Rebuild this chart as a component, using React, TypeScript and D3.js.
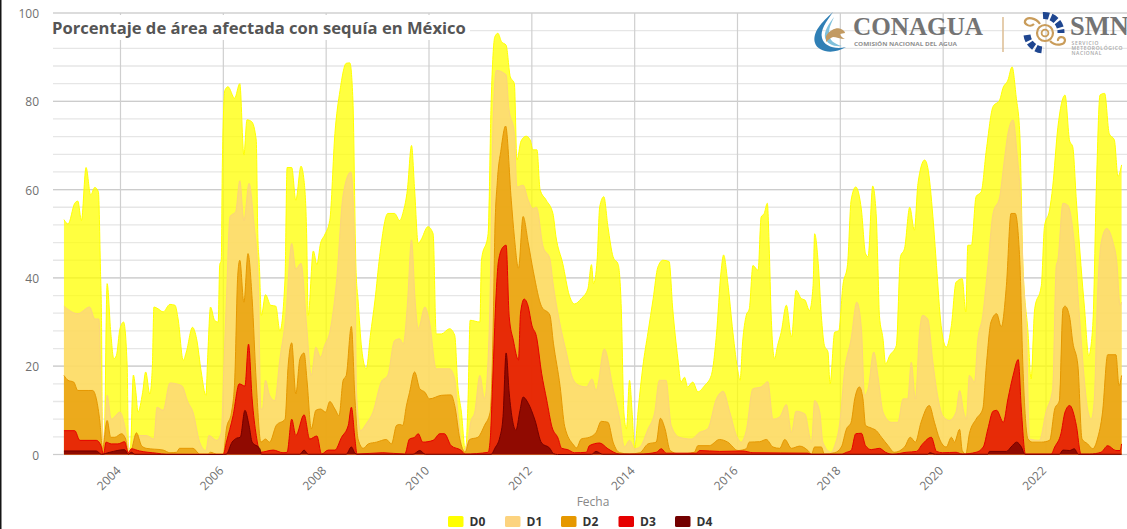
import React from "react";
import * as d3 from "d3";

type P = [number, number];

const d0Points: P[] = [[2002.9,53.2],[2002.98,52.2],[2003.11,56.9],[2003.17,57.4],[2003.24,53],[2003.33,65],[2003.42,58.8],[2003.5,60.5],[2003.57,59.5],[2003.61,42],[2003.63,31],[2003.65,2],[2003.68,0.5],[2003.74,38.7],[2003.81,27.7],[2003.87,21.7],[2003.92,22.4],[2003.99,28.5],[2004.06,30],[2004.13,20],[2004.155,1.3],[2004.19,0.5],[2004.25,18],[2004.3,14],[2004.34,9.6],[2004.43,14],[2004.49,18.7],[2004.57,13.7],[2004.62,20],[2004.65,33.4],[2004.73,33],[2004.83,32.3],[2004.96,34],[2005.06,33.8],[2005.12,30.7],[2005.22,21.3],[2005.28,23.2],[2005.4,28.8],[2005.48,26.2],[2005.57,18.7],[2005.66,13.4],[2005.7,23.2],[2005.75,33.4],[2005.83,30.4],[2005.9,30],[2005.93,43],[2005.96,44],[2005.98,65],[2006.03,82.5],[2006.09,83.3],[2006.22,80.7],[2006.32,84],[2006.4,67.8],[2006.46,75.8],[2006.55,75.4],[2006.64,71.2],[2006.67,50],[2006.7,43],[2006.74,31.5],[2006.82,36.2],[2006.92,33.8],[2007.02,33.6],[2007.1,28],[2007.2,39.8],[2007.24,65],[2007.33,65],[2007.41,57.6],[2007.51,65.3],[2007.57,62],[2007.62,50],[2007.65,31.5],[2007.75,46.1],[2007.82,43],[2007.89,47.8],[2007.97,49.7],[2008.07,53],[2008.17,72.7],[2008.27,82.5],[2008.39,88.6],[2008.46,88.7],[2008.52,80.3],[2008.58,42],[2008.62,35],[2008.69,24],[2008.78,19.4],[2008.86,27],[2008.95,35],[2009.04,44.8],[2009.2,54.6],[2009.33,54.6],[2009.43,53],[2009.5,55],[2009.58,60],[2009.66,70],[2009.72,60],[2009.79,47.8],[2009.84,48.5],[2009.98,51.6],[2010.08,50],[2010.14,27.3],[2010.24,27.3],[2010.4,28.5],[2010.5,27],[2010.56,15.6],[2010.63,9.6],[2010.71,0.5],[2010.76,12.6],[2010.8,30.4],[2010.99,30],[2011.02,44],[2011.15,50],[2011.21,80.3],[2011.28,94.6],[2011.34,95.4],[2011.41,93.5],[2011.5,92.7],[2011.58,85.6],[2011.66,84],[2011.71,66.7],[2011.79,71],[2011.89,72.1],[2011.97,71.2],[2012.02,69],[2012.1,69],[2012.16,60],[2012.28,57.6],[2012.41,54.6],[2012.47,49.3],[2012.6,43.3],[2012.73,36],[2012.83,34.1],[2012.96,35.3],[2013.09,37.5],[2013.16,43],[2013.2,38.7],[2013.27,44],[2013.32,56.1],[2013.4,58.4],[2013.48,51.6],[2013.58,44.8],[2013.68,43],[2013.74,33],[2013.79,9.6],[2013.84,5.8],[2013.9,16.8],[2013.95,9.6],[2014,1.3],[2014.07,10.3],[2014.16,20],[2014.26,27.7],[2014.36,35.3],[2014.45,42.4],[2014.55,44],[2014.67,43.7],[2014.74,33],[2014.84,21.7],[2014.9,16.4],[2014.97,17.5],[2015.03,15.3],[2015.13,16.4],[2015.23,14.2],[2015.36,15.6],[2015.49,17.9],[2015.59,27],[2015.68,41.4],[2015.73,45.2],[2015.81,39],[2015.91,27.7],[2016.01,18.7],[2016.05,16.8],[2016.1,25.5],[2016.17,31.5],[2016.23,33],[2016.3,42.8],[2016.4,41.7],[2016.46,53.8],[2016.52,54.6],[2016.58,56.9],[2016.62,45.6],[2016.65,33],[2016.72,21.7],[2016.78,24.7],[2016.85,27.7],[2016.95,33.8],[2017.05,26.6],[2017.14,37.2],[2017.24,35.3],[2017.31,35],[2017.4,32.6],[2017.47,38.3],[2017.5,50],[2017.57,43.3],[2017.63,31.5],[2017.69,24.7],[2017.76,23.2],[2017.8,16],[2017.89,27.7],[2017.97,28],[2018.05,38.3],[2018.14,43],[2018.21,57.6],[2018.3,60.6],[2018.41,55.4],[2018.49,45.5],[2018.54,44.8],[2018.63,60.8],[2018.7,53.8],[2018.73,42.8],[2018.76,31.5],[2018.83,26.2],[2018.88,20.5],[2018.96,22.4],[2019.09,24.7],[2019.17,44.8],[2019.25,46.7],[2019.35,56],[2019.44,50.8],[2019.51,61.4],[2019.64,66.7],[2019.7,65],[2019.8,53.9],[2019.87,42.8],[2019.96,29.2],[2020.06,24.3],[2020.16,29.2],[2020.25,39],[2020.37,39.8],[2020.44,32.3],[2020.48,47.4],[2020.55,47.4],[2020.64,58.4],[2020.74,59.5],[2020.84,69],[2020.97,78.8],[2021.1,80.3],[2021.16,82.9],[2021.26,84.8],[2021.34,87.8],[2021.42,81],[2021.49,72.7],[2021.55,43.3],[2021.65,27.7],[2021.71,17.1],[2021.78,33],[2021.91,38.3],[2021.97,51.6],[2022.07,55.4],[2022.13,60.6],[2022.23,74],[2022.37,81.4],[2022.46,71],[2022.52,69.7],[2022.59,57.6],[2022.68,42.8],[2022.75,33],[2022.83,22.4],[2022.91,29.2],[2022.98,60.6],[2023.05,81.4],[2023.14,81.8],[2023.23,72.7],[2023.33,71.2],[2023.4,63],[2023.47,65.6]];

const d1Points: P[] = [[2002.9,33.6],[2003.17,31.9],[2003.4,33.4],[2003.5,30.7],[2003.58,30.7],[2003.63,11],[2003.68,2.8],[2003.74,13.4],[2003.82,8],[2003.99,9.6],[2004.08,6.6],[2004.15,2],[2004.21,1],[2004.28,4.3],[2004.37,4.3],[2004.5,4.3],[2004.65,3.5],[2004.71,10.7],[2004.83,10],[2004.96,16.2],[2005.19,15.6],[2005.31,11.9],[2005.41,9.6],[2005.54,2.8],[2005.66,0.9],[2005.72,4.3],[2005.87,3.2],[2005.96,5],[2006.01,20],[2006.06,35],[2006.13,53.9],[2006.24,55],[2006.32,62],[2006.4,53],[2006.5,61.4],[2006.59,53],[2006.68,39],[2006.73,10.3],[2006.76,10.3],[2006.82,16.8],[2006.9,13.4],[2007,12.2],[2007.1,21.7],[2007.21,30.7],[2007.33,47.8],[2007.41,42],[2007.51,43.3],[2007.62,29.2],[2007.71,17.9],[2007.8,24.3],[2007.89,22],[2007.97,24.7],[2008.07,27.7],[2008.2,39],[2008.33,58.8],[2008.48,64],[2008.56,44],[2008.59,14],[2008.67,5.4],[2008.78,7],[2008.91,9.6],[2009.07,16.4],[2009.2,18],[2009.33,25.8],[2009.43,26.2],[2009.5,25],[2009.58,34],[2009.66,48.6],[2009.73,35],[2009.79,28.5],[2009.92,33.4],[2010.01,30],[2010.14,19.4],[2010.4,19.4],[2010.5,17.1],[2010.56,9.6],[2010.66,0.9],[2010.76,3.5],[2010.81,7.3],[2010.89,9.6],[2010.99,17.9],[2011.08,12.6],[2011.17,27.7],[2011.2,43],[2011.24,72.7],[2011.31,87],[2011.5,86],[2011.55,78.8],[2011.66,72.7],[2011.71,60.6],[2011.83,61],[2011.93,57.6],[2012.02,55.7],[2012.09,56],[2012.22,47],[2012.35,44.4],[2012.41,39],[2012.54,30],[2012.67,23.2],[2012.8,17.1],[2012.93,15.6],[2013.06,15.3],[2013.17,17.1],[2013.25,14.5],[2013.41,23.9],[2013.58,14.9],[2013.71,8],[2013.8,1.7],[2013.9,3.2],[2014,1.3],[2014.1,1.7],[2014.26,5.8],[2014.39,9.6],[2014.48,16.8],[2014.61,16.8],[2014.71,6.6],[2014.87,3.9],[2015.1,3.5],[2015.26,5],[2015.42,5.8],[2015.59,12.6],[2015.72,14.3],[2015.85,9.6],[2015.98,4.3],[2016.07,2.8],[2016.17,5.4],[2016.3,14.9],[2016.46,15.3],[2016.59,16.5],[2016.69,8],[2016.82,8.5],[2016.95,11.3],[2017.05,5],[2017.14,9.8],[2017.31,9.2],[2017.44,2.8],[2017.5,12.2],[2017.6,9.6],[2017.66,2.8],[2017.82,0.5],[2017.89,2],[2017.99,7.3],[2018.08,18.7],[2018.21,26.2],[2018.32,34.5],[2018.41,28.5],[2018.47,13.4],[2018.54,14.9],[2018.65,23.2],[2018.73,17.9],[2018.83,9.6],[2018.99,7.3],[2019.12,7.3],[2019.22,12.6],[2019.31,12.6],[2019.38,20.9],[2019.46,12.6],[2019.54,27.7],[2019.6,31.5],[2019.7,30.7],[2019.8,20.9],[2019.87,14.9],[2019.99,8.8],[2020.12,7.7],[2020.25,9.6],[2020.32,14.5],[2020.4,9.6],[2020.45,8],[2020.51,17.9],[2020.61,16.4],[2020.67,25.5],[2020.77,31.5],[2020.87,42.8],[2020.97,54.6],[2021.1,58.4],[2021.19,66.7],[2021.26,72.7],[2021.36,75.8],[2021.43,69],[2021.52,53.9],[2021.55,42.8],[2021.62,27.7],[2021.68,3.5],[2021.87,3.2],[2022,9.6],[2022.13,14.9],[2022.2,42.8],[2022.23,44],[2022.33,56.9],[2022.42,56.5],[2022.55,47.8],[2022.65,31.5],[2022.75,16.4],[2022.81,10.3],[2022.88,8],[2022.94,12.6],[2023,35.3],[2023.07,47.8],[2023.18,51.2],[2023.3,48.2],[2023.38,43.3],[2023.44,33.8],[2023.47,34.5]];

const d2Points: P[] = [[2002.9,17.9],[2002.98,16.8],[2003.09,16.4],[2003.17,14.5],[2003.37,14.5],[2003.46,14.5],[2003.53,12.6],[2003.6,7.3],[2003.65,1.3],[2003.74,7.7],[2003.81,3.9],[2003.89,3.9],[2004.02,4.7],[2004.1,3.5],[2004.155,0.2],[2004.21,0.9],[2004.31,4.9],[2004.41,2],[2004.5,1.4],[2004.83,1],[2004.96,0.4],[2005.09,0.5],[2005.15,1.4],[2005.41,1.4],[2005.54,0.1],[2005.7,0.1],[2005.75,0.5],[2005.87,0.1],[2006,0.1],[2006.06,5.8],[2006.16,9.6],[2006.22,16.4],[2006.28,40.5],[2006.32,44],[2006.4,34.5],[2006.48,45.5],[2006.56,35.3],[2006.64,16.4],[2006.73,2.8],[2006.82,3.5],[2006.9,2.8],[2007.03,6.6],[2007.2,8],[2007.26,20],[2007.33,25.3],[2007.41,13.7],[2007.49,21.7],[2007.57,23],[2007.63,16.4],[2007.71,5.8],[2007.8,10],[2007.89,10.3],[2007.99,9.6],[2008.07,12],[2008.17,10.3],[2008.25,8.8],[2008.33,16.8],[2008.39,17.9],[2008.49,29],[2008.56,12.6],[2008.62,3.5],[2008.72,1.4],[2008.82,2.4],[2008.98,2.8],[2009.17,3.4],[2009.27,2.4],[2009.37,6.6],[2009.43,6.8],[2009.49,6.6],[2009.56,11],[2009.62,14],[2009.72,18.7],[2009.82,14.9],[2009.92,14.1],[2010.01,12.6],[2010.24,13.4],[2010.43,13.5],[2010.5,11.1],[2010.6,3.5],[2010.7,0.5],[2010.79,3.4],[2010.95,3.9],[2011.08,6.6],[2011.19,9.6],[2011.25,30],[2011.28,50],[2011.33,62],[2011.4,69],[2011.49,74.4],[2011.6,57.6],[2011.66,49.3],[2011.74,42.2],[2011.83,53.9],[2011.93,47.9],[2012.03,41.4],[2012.19,33.5],[2012.35,31.6],[2012.42,25.2],[2012.55,15.4],[2012.64,6.3],[2012.81,2.2],[2012.87,1.5],[2012.96,3.5],[2013.12,3.9],[2013.25,5],[2013.35,7.5],[2013.48,7.3],[2013.58,2.8],[2013.71,0.4],[2013.9,0.1],[2014.1,0.4],[2014.26,2.4],[2014.42,2.8],[2014.5,8.2],[2014.59,5.8],[2014.69,0.9],[2014.87,0.1],[2015.16,0.5],[2015.23,2],[2015.45,2],[2015.65,3.4],[2015.81,2.8],[2016.01,0.9],[2016.17,1.3],[2016.23,2.8],[2016.43,2.9],[2016.56,3.4],[2016.69,1.7],[2016.82,1.4],[2016.92,3.4],[2017.05,1.4],[2017.21,1.9],[2017.37,0.9],[2017.44,0.1],[2017.5,1.7],[2017.63,1.7],[2017.69,0.1],[2017.89,0.4],[2018.02,1.7],[2018.12,5.8],[2018.21,7.3],[2018.28,12.6],[2018.37,15.3],[2018.44,12.6],[2018.49,6.6],[2018.6,6],[2018.7,5.4],[2018.8,3.9],[2018.93,2],[2019.05,0.5],[2019.25,1.7],[2019.36,3.9],[2019.46,2.8],[2019.57,7.3],[2019.73,11.1],[2019.83,7.3],[2019.93,3.5],[2020.06,1.7],[2020.16,3.9],[2020.22,2.8],[2020.32,5.7],[2020.37,0.9],[2020.44,0.1],[2020.51,4.7],[2020.64,8],[2020.77,10.3],[2020.84,20.2],[2020.93,30],[2021.04,31.9],[2021.13,28.9],[2021.23,38.3],[2021.32,54.6],[2021.4,54.6],[2021.49,44],[2021.55,20.2],[2021.65,3.5],[2021.74,2.8],[2021.91,2.8],[2022.07,3.2],[2022.17,10.3],[2022.26,12.2],[2022.33,33],[2022.37,33.6],[2022.46,31.1],[2022.52,25.5],[2022.62,20.2],[2022.7,3.5],[2022.81,2.4],[2022.91,1.3],[2023,3.5],[2023.1,9.6],[2023.2,22.6],[2023.36,22.6],[2023.42,15.6],[2023.47,17.9]];

const d3Points: P[] = [[2002.9,5.4],[2003.11,5.4],[2003.21,3.2],[2003.53,3.2],[2003.62,2],[2003.67,0.1],[2003.72,2.8],[2003.82,2.4],[2003.95,2.4],[2004.08,2.9],[2004.15,0.4],[2004.21,1.3],[2004.37,0.8],[2004.7,0.3],[2004.89,0.05],[2005.6,0.05],[2006,0.05],[2006.06,2.8],[2006.19,8.8],[2006.31,16],[2006.42,15.5],[2006.49,25],[2006.56,12.6],[2006.64,4.3],[2006.72,0.5],[2006.97,1],[2007.16,0.4],[2007.24,0.5],[2007.33,8],[2007.41,4.3],[2007.57,9],[2007.68,3.5],[2007.82,4.2],[2007.91,0.1],[2008.04,1],[2008.17,1],[2008.3,3.9],[2008.43,6.6],[2008.49,10.7],[2008.56,3.5],[2008.6,0.1],[2009.1,0.4],[2009.53,0.1],[2009.62,3.5],[2009.72,3.9],[2009.79,4.7],[2009.88,2.8],[2010.08,3.2],[2010.21,4.7],[2010.3,4.7],[2010.43,2],[2010.63,0.9],[2010.7,0.1],[2011.15,0.5],[2011.19,3.3],[2011.24,16.9],[2011.3,35],[2011.35,43.7],[2011.44,47],[2011.5,47.4],[2011.56,31.2],[2011.64,25.9],[2011.74,21.4],[2011.78,32],[2011.85,35.2],[2011.93,33.5],[2012,29.3],[2012.09,26.7],[2012.19,18.4],[2012.29,12.3],[2012.39,6.3],[2012.51,3.7],[2012.58,1.4],[2012.7,1.1],[2012.83,0.4],[2013.06,0.5],[2013.12,2],[2013.32,2.6],[2013.48,1.3],[2013.71,0.1],[2014.1,0.1],[2014.42,0.5],[2014.52,1.3],[2014.61,0.3],[2015.2,0.3],[2015.26,0.9],[2015.65,0.7],[2016.1,0.8],[2016.3,0.4],[2017.37,0.3],[2017.44,0.05],[2018.02,0.05],[2018.12,0.5],[2018.21,0.9],[2018.3,4.7],[2018.41,4.8],[2018.49,2],[2018.6,1.1],[2018.76,1.4],[2018.88,0.5],[2019.02,0.05],[2019.28,0.5],[2019.48,0.7],[2019.6,2.4],[2019.77,3.9],[2019.87,0.7],[2019.99,0.4],[2020.25,0.5],[2020.37,0.1],[2020.64,0.5],[2020.78,1.7],[2020.87,5.8],[2020.97,9.8],[2021.04,10],[2021.17,7.3],[2021.26,12.6],[2021.36,17.9],[2021.46,21.5],[2021.52,10.3],[2021.6,0.1],[2022.1,0.1],[2022.17,1.7],[2022.29,4.7],[2022.37,9.6],[2022.46,11.1],[2022.59,6.6],[2022.68,0.1],[2022.85,0.1],[2023.07,0.5],[2023.2,2],[2023.36,0.9],[2023.44,0.9],[2023.47,2.4]];

const d4Points: P[] = [[2002.9,0.8],[2003.53,0.8],[2003.63,0.05],[2003.79,0.5],[2004.08,1.1],[2004.15,0.05],[2004.21,0.5],[2004.28,0.05],[2006,0],[2006.06,0.1],[2006.17,2.8],[2006.26,3.7],[2006.33,3.9],[2006.42,10],[2006.5,6.6],[2006.56,2.8],[2006.71,1.3],[2006.74,0.05],[2007.49,0.05],[2007.57,1],[2007.65,0.05],[2008.39,0.05],[2008.49,1.7],[2008.56,0.3],[2008.6,0.05],[2009.69,0.05],[2009.82,0.9],[2009.93,0.05],[2011.21,0.05],[2011.28,1.4],[2011.38,4],[2011.44,8.6],[2011.5,23],[2011.56,13.9],[2011.69,5.5],[2011.77,10],[2011.83,13],[2011.93,11.6],[2012.06,7.8],[2012.19,2.6],[2012.35,1.4],[2012.42,0.2],[2012.5,0],[2013.16,0.05],[2013.25,0.7],[2013.38,0.05],[2019.7,0.05],[2019.74,0.4],[2019.85,0.05],[2020.87,0.05],[2020.9,0.7],[2021.23,0.7],[2021.32,1.7],[2021.43,2.8],[2021.52,1.7],[2021.59,0.05],[2022.26,0.05],[2022.33,1],[2022.46,0.9],[2022.55,1.3],[2022.63,0.05],[2023.47,0.05]];

const seriesNames = ["D0", "D1", "D2", "D3", "D4"];
const seriesColors = ["#FFFF00", "#FCD37F", "#E69800", "#E60000", "#730000"];
const seriesData = [d0Points, d1Points, d2Points, d3Points, d4Points];
const yMajorTicks = [0, 20, 40, 60, 80, 100];
const yMinorTicks = d3.range(0, 101, 4);
const xTicks = [2004, 2006, 2008, 2010, 2012, 2014, 2016, 2018, 2020, 2022];

const FONT = "'Open Sans', sans-serif";
const x = d3.scaleLinear().domain([2004, 2022]).range([120.5, 1046]);
const y = d3.scaleLinear().domain([0, 100]).range([454.5, 13]);
const legendX = [448, 505, 561, 618.5, 675];

const area = d3.area<P>().x((d) => x(d[0])).y0(y(0)).y1((d) => y(d[1])).curve(d3.curveMonotoneX);
const line = d3.line<P>().x((d) => x(d[0])).y((d) => y(d[1])).curve(d3.curveMonotoneX);

function Logos() {
  return (
    <g>
      <path d="M833 12 C822 22 812 32 815 43 C818 52 833 55 846 47 C835 50 824 46 822 38 C820 30 826 22 833 12 Z" fill="#2f7fb5" />
      <path d="M834 17 C828 25 824 31 825 38 C827 44 834 47 842 46 C834 44 829 40 829 33 C829 27 832 22 834 17 Z" fill="#7fc1dc" />
      <path d="M826 36 C830 29 838 27 841 29 C843 30 845 31 845 33 L840 34 C841 37 843 38 845 39 C840 39 836 37 833 37 C830 38 828 40 826 42 Z" fill="#c29a62" />
      <text x={853} y={35} fontFamily="'Liberation Serif', serif" fontSize={25} fontWeight={700} fill="#747474" textLength={130} lengthAdjust="spacingAndGlyphs">CONAGUA</text>
      <text x={854} y={45.5} fontFamily={FONT} fontSize={5} fontWeight={700} fill="#8f8f8f" textLength={103} lengthAdjust="spacingAndGlyphs">COMISIÓN NACIONAL DEL AGUA</text>
      <line x1={1003} x2={1003} y1={17} y2={52} stroke="#dcbd92" strokeWidth={1.5} />
      <path d="M1043 15.5 A17 17 0 0 1 1061 33" fill="none" stroke="#1f4690" strokeWidth={7} strokeDasharray="6 2.2" />
      <path d="M1027 35 A17 17 0 0 0 1044 50" fill="none" stroke="#1f4690" strokeWidth={7} strokeDasharray="6 2.2" />
      <path d="M1034 24 C1030 28 1024 24 1025 21 C1027 16 1036 18 1040 24" fill="none" stroke="#c99c5a" strokeWidth={2.2} />
      <circle cx={1045} cy={33} r={8} fill="none" stroke="#c99c5a" strokeWidth={2.2} />
      <circle cx={1045} cy={33} r={3.4} fill="none" stroke="#c99c5a" strokeWidth={1.8} />
      <path d="M1050 41 C1056 47 1065 45 1065 40 C1064 35 1057 37 1058 41" fill="none" stroke="#c99c5a" strokeWidth={2.2} />
      <text x={1070} y={35} fontFamily="'Liberation Serif', serif" fontSize={26.5} fontWeight={700} fill="#747474">SMN</text>
      <g fontFamily={FONT} fontSize={5} fontWeight={600} fill="#a8a8a8">
        <text x={1071.5} y={45} textLength={27} lengthAdjust="spacing">SERVICIO</text>
        <text x={1071.5} y={50} textLength={51} lengthAdjust="spacing">METEOROLÓGICO</text>
        <text x={1071.5} y={55} textLength={30} lengthAdjust="spacing">NACIONAL</text>
      </g>
    </g>
  );
}

export default function App() {
  return (
    <svg width={1127} height={529} viewBox="0 0 1127 529" style={{ position: "absolute", left: 0, top: 0, display: "block", background: "#fff" }}>
      <rect x={0} y={0} width={1127} height={529} fill="#fff" />
      <rect x={0} y={0} width={1.5} height={529} fill="#151515" />
      {yMinorTicks.map((t) => (
        <line key={t} x1={53} x2={1127} y1={y(t)} y2={y(t)} stroke="#e6e6e6" strokeWidth={1.3} />
      ))}
      {yMajorTicks.map((t) => (
        <line key={t} x1={53} x2={1127} y1={y(t)} y2={y(t)} stroke="#cccccc" strokeWidth={1.2} />
      ))}
      {xTicks.map((t) => (
        <line key={t} x1={x(t)} x2={x(t)} y1={y(100)} y2={y(0)} stroke="#cfcfcf" strokeWidth={1.2} />
      ))}
      <rect x={50} y={15} width={420} height={25} fill="#fff" />
      <Logos />
      {seriesData.map((data, i) => (
        <g key={seriesNames[i]}>
          <path d={area(data) ?? ""} fill={seriesColors[i]} fillOpacity={0.75} />
          <path d={line(data) ?? ""} fill="none" stroke={seriesColors[i]} strokeWidth={1} />
        </g>
      ))}
      <text x={52} y={34} fontFamily={FONT} fontSize={16.6} fontWeight={700} fill="#555555">Porcentaje de área afectada con sequía en México</text>
      <g fontFamily={FONT} fontSize={12} fill="#707070">
        {yMajorTicks.map((t) => (
          <text key={t} x={39} y={y(t) + 5} textAnchor="end">{t}</text>
        ))}
        {xTicks.map((t) => (
          <text key={t} transform={`translate(${x(t) + 1},${y(0) + 17}) rotate(-45)`} textAnchor="end">{t}</text>
        ))}
        <text x={593} y={506} textAnchor="middle" fill="#888888">Fecha</text>
      </g>
      {seriesNames.map((n, i) => (
        <g key={n}>
          <rect x={legendX[i]} y={516} width={15.5} height={11} rx={1.5} fill={seriesColors[i]} />
          <text x={legendX[i] + 21.5} y={526} fontFamily={FONT} fontSize={12} fontWeight={700} fill="#333333">{n}</text>
        </g>
      ))}
    </svg>
  );
}
